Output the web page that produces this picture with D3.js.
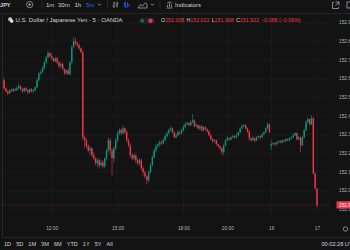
<!DOCTYPE html>
<html>
<head>
<meta charset="utf-8">
<script src="https://cdn.jsdelivr.net/npm/d3@7"></script>
<style>
	html, body { margin: 0; padding: 0; background: #131313; overflow: hidden; }
	svg { display: block; font-family: "Liberation Sans", Arial, sans-serif; }
</style>
</head>
<body>
<div id="container"></div>
<script>
const width = 350;
const height = 250;

// USDJPY 5m bars, OANDA (Fri 09:50 -> Mon 00:00)
const opens = [
	152.590, 152.547, 152.531, 152.520, 152.536, 152.531, 152.542, 152.536, 152.547, 152.558,
	152.542, 152.531, 152.547, 152.536, 152.525, 152.542, 152.531, 152.536, 152.552, 152.590,
	152.627, 152.633, 152.654, 152.686, 152.713, 152.735, 152.718, 152.708, 152.692, 152.708,
	152.686, 152.665, 152.676, 152.649, 152.627, 152.643, 152.622, 152.686, 152.767, 152.799,
	152.788, 152.777, 152.761, 152.740, 152.284, 152.268, 152.236, 152.214, 152.225, 152.188,
	152.172, 152.145, 152.161, 152.134, 152.150, 152.129, 152.172, 152.214, 152.268, 152.214,
	152.172, 152.225, 152.268, 152.306, 152.322, 152.306, 152.332, 152.311, 152.268, 152.241,
	152.188, 152.172, 152.188, 152.161, 152.145, 152.161, 152.118, 152.097, 152.075, 152.054,
	152.097, 152.134, 152.177, 152.214, 152.236, 152.247, 152.257, 152.252, 152.268, 152.290,
	152.306, 152.322, 152.332, 152.311, 152.284, 152.295, 152.311, 152.306, 152.322, 152.338,
	152.354, 152.359, 152.349, 152.365, 152.375, 152.343, 152.349, 152.332, 152.343, 152.322,
	152.338, 152.327, 152.316, 152.295, 152.273, 152.263, 152.268, 152.247, 152.236, 152.225,
	152.204, 152.241, 152.268, 152.279, 152.273, 152.284, 152.290, 152.284, 152.295, 152.311,
	152.332, 152.343, 152.349, 152.332, 152.316, 152.279, 152.268, 152.279, 152.268, 152.284,
	152.290, 152.284, 152.300, 152.311, 152.332, 152.354, 152.236, 152.247, 152.252, 152.247,
	152.257, 152.263, 152.257, 152.268, 152.263, 152.273, 152.268, 152.279, 152.284, 152.295,
	152.306, 152.273, 152.284, 152.241, 152.284, 152.322, 152.365, 152.381, 152.354, 152.386,
	152.091, 152.008
];
const highs = [
	152.606, 152.552, 152.536, 152.542, 152.547, 152.552, 152.547, 152.558, 152.574, 152.563,
	152.547, 152.552, 152.552, 152.542, 152.547, 152.547, 152.542, 152.558, 152.601, 152.633,
	152.643, 152.665, 152.692, 152.718, 152.751, 152.740, 152.735, 152.713, 152.713, 152.713,
	152.692, 152.686, 152.686, 152.654, 152.649, 152.654, 152.692, 152.777, 152.820, 152.815,
	152.799, 152.788, 152.767, 152.751, 152.295, 152.279, 152.252, 152.241, 152.231, 152.204,
	152.177, 152.172, 152.172, 152.161, 152.161, 152.177, 152.225, 152.284, 152.279, 152.225,
	152.236, 152.279, 152.316, 152.332, 152.332, 152.349, 152.338, 152.322, 152.279, 152.252,
	152.198, 152.198, 152.193, 152.172, 152.172, 152.172, 152.129, 152.107, 152.080, 152.107,
	152.145, 152.188, 152.225, 152.247, 152.257, 152.268, 152.268, 152.279, 152.300, 152.316,
	152.332, 152.343, 152.338, 152.316, 152.306, 152.322, 152.316, 152.332, 152.349, 152.365,
	152.370, 152.365, 152.375, 152.408, 152.381, 152.359, 152.354, 152.349, 152.349, 152.343,
	152.343, 152.332, 152.322, 152.300, 152.279, 152.273, 152.273, 152.252, 152.241, 152.231,
	152.247, 152.273, 152.290, 152.284, 152.290, 152.300, 152.295, 152.306, 152.316, 152.338,
	152.354, 152.354, 152.354, 152.338, 152.322, 152.284, 152.290, 152.284, 152.290, 152.295,
	152.295, 152.306, 152.316, 152.338, 152.365, 152.359, 152.268, 152.257, 152.257, 152.263,
	152.268, 152.268, 152.273, 152.273, 152.279, 152.279, 152.284, 152.290, 152.306, 152.311,
	152.311, 152.290, 152.290, 152.290, 152.327, 152.375, 152.391, 152.386, 152.402, 152.391,
	152.094, 152.012
];
const lows = [
	152.536, 152.525, 152.509, 152.515, 152.525, 152.525, 152.531, 152.531, 152.542, 152.536,
	152.520, 152.525, 152.531, 152.515, 152.520, 152.525, 152.520, 152.531, 152.547, 152.584,
	152.617, 152.627, 152.649, 152.676, 152.708, 152.713, 152.697, 152.686, 152.686, 152.676,
	152.654, 152.654, 152.643, 152.617, 152.622, 152.617, 152.617, 152.676, 152.761, 152.777,
	152.767, 152.751, 152.735, 152.268, 152.225, 152.225, 152.204, 152.188, 152.177, 152.161,
	152.134, 152.123, 152.118, 152.129, 152.118, 152.118, 152.161, 152.204, 152.188, 152.080,
	152.150, 152.214, 152.257, 152.295, 152.295, 152.300, 152.300, 152.257, 152.231, 152.177,
	152.161, 152.161, 152.145, 152.134, 152.134, 152.107, 152.080, 152.064, 152.032, 152.043,
	152.091, 152.129, 152.172, 152.204, 152.225, 152.236, 152.241, 152.247, 152.263, 152.284,
	152.300, 152.316, 152.306, 152.279, 152.279, 152.290, 152.295, 152.300, 152.316, 152.332,
	152.349, 152.343, 152.343, 152.359, 152.338, 152.338, 152.327, 152.322, 152.316, 152.316,
	152.322, 152.311, 152.290, 152.268, 152.252, 152.257, 152.241, 152.231, 152.214, 152.188,
	152.188, 152.236, 152.263, 152.263, 152.268, 152.279, 152.273, 152.279, 152.290, 152.306,
	152.327, 152.338, 152.327, 152.306, 152.268, 152.263, 152.263, 152.257, 152.263, 152.279,
	152.273, 152.279, 152.295, 152.306, 152.327, 152.306, 152.214, 152.241, 152.236, 152.241,
	152.252, 152.252, 152.252, 152.257, 152.257, 152.263, 152.263, 152.273, 152.279, 152.290,
	152.268, 152.268, 152.204, 152.236, 152.279, 152.316, 152.359, 152.349, 152.349, 152.086,
	152.003, 151.908
];
const closes = [
	152.547, 152.531, 152.520, 152.536, 152.531, 152.542, 152.536, 152.547, 152.558, 152.542,
	152.531, 152.547, 152.536, 152.525, 152.542, 152.531, 152.536, 152.552, 152.590, 152.627,
	152.633, 152.654, 152.686, 152.713, 152.735, 152.718, 152.708, 152.692, 152.708, 152.686,
	152.665, 152.676, 152.649, 152.627, 152.643, 152.622, 152.686, 152.767, 152.799, 152.788,
	152.777, 152.761, 152.740, 152.284, 152.268, 152.236, 152.214, 152.225, 152.188, 152.172,
	152.145, 152.161, 152.134, 152.150, 152.129, 152.172, 152.214, 152.268, 152.214, 152.172,
	152.225, 152.268, 152.306, 152.322, 152.306, 152.332, 152.311, 152.268, 152.241, 152.188,
	152.172, 152.188, 152.161, 152.145, 152.161, 152.118, 152.097, 152.075, 152.054, 152.097,
	152.134, 152.177, 152.214, 152.236, 152.247, 152.257, 152.252, 152.268, 152.290, 152.306,
	152.322, 152.332, 152.311, 152.284, 152.295, 152.311, 152.306, 152.322, 152.338, 152.354,
	152.359, 152.349, 152.365, 152.375, 152.343, 152.349, 152.332, 152.343, 152.322, 152.338,
	152.327, 152.316, 152.295, 152.273, 152.263, 152.268, 152.247, 152.236, 152.225, 152.204,
	152.241, 152.268, 152.279, 152.273, 152.284, 152.290, 152.284, 152.295, 152.311, 152.332,
	152.343, 152.349, 152.332, 152.316, 152.279, 152.268, 152.279, 152.268, 152.284, 152.290,
	152.284, 152.300, 152.311, 152.332, 152.354, 152.311, 152.247, 152.252, 152.247, 152.257,
	152.263, 152.257, 152.268, 152.263, 152.273, 152.268, 152.279, 152.284, 152.295, 152.306,
	152.273, 152.284, 152.241, 152.284, 152.322, 152.365, 152.381, 152.354, 152.386, 152.091,
	152.010, 151.922
];

// time axis labels and the bar they sit on
const timeLabels = ["12:00", "15:00", "18:00", "20:00", "16", "17"];
const timeIndex = [26, 62, 98, 122, 146, 171];

// price scale ticks
const priceTicks = [151.9, 152.0, 152.1, 152.2, 152.3, 152.4, 152.5, 152.6, 152.7, 152.8, 152.9];

// header / footer texts
const symbolName = "U.S. Dollar / Japanese Yen · 5 · OANDA";
const intervals = ["1m", "30m", "1h", "5m"];
const ranges = ["1D", "5D", "1M", "3M", "6M", "YTD", "1Y", "5Y", "All"];
const clockText = "00:02:28 UTC";

const upColor = "#089981";
const downColor = "#f23645";
const textColor = "#d1d4dc";
const axisColor = "#b2b5be";
const gridColor = "#1d1d1d";

const last = closes.length - 1;
const change = closes[last] - closes[last - 1];

let svg = d3.select("#container")
	.append("svg")
	.attr("width", width)
	.attr("height", height);

svg.append("rect")
	.attr("width", width)
	.attr("height", height)
	.attr("fill", "#131313");

// pane geometry
const pane = { left: 3, right: 330, top: 14, bottom: 221 };

const x = d3.scaleLinear()
	.domain([0, last])
	.range([4.1, 317]);

const y = d3.scaleLinear()
	.domain([151.9, 152.9])
	.range([209, 22.35]);

svg.append("clipPath")
	.attr("id", "pane")
	.append("rect")
	.attr("x", pane.left)
	.attr("y", pane.top)
	.attr("width", pane.right - pane.left)
	.attr("height", pane.bottom - pane.top);

// grid
let grid = svg.append("g").attr("clip-path", "url(#pane)");
grid.selectAll("line.v")
	.data(timeIndex)
	.enter()
	.append("line")
	.attr("class", "v")
	.attr("x1", d => x(d)).attr("x2", d => x(d))
	.attr("y1", pane.top).attr("y2", pane.bottom)
	.attr("stroke", gridColor)
	.attr("stroke-width", 0.8);
grid.selectAll("line.h")
	.data(priceTicks)
	.enter()
	.append("line")
	.attr("class", "h")
	.attr("x1", pane.left).attr("x2", pane.right)
	.attr("y1", d => y(d)).attr("y2", d => y(d))
	.attr("stroke", gridColor)
	.attr("stroke-width", 0.8);

// last price line
grid.append("line")
	.attr("x1", pane.left).attr("x2", pane.right)
	.attr("y1", y(closes[last])).attr("y2", y(closes[last]))
	.attr("stroke", downColor)
	.attr("stroke-opacity", 0.6)
	.attr("stroke-width", 0.7)
	.attr("stroke-dasharray", "1,1.5");

// candles
const candles = closes.map((c, i) => ({ i: i, o: opens[i], h: highs[i], l: lows[i], c: c }));

let plot = svg.append("g").attr("clip-path", "url(#pane)");
let bar = plot.selectAll("g.candle")
	.data(candles)
	.enter()
	.append("g")
	.attr("class", "candle")
	.attr("fill", d => d.c >= d.o ? upColor : downColor)
	.attr("stroke", d => d.c >= d.o ? upColor : downColor);

bar.append("line")
	.attr("x1", d => x(d.i)).attr("x2", d => x(d.i))
	.attr("y1", d => y(d.h)).attr("y2", d => y(d.l))
	.attr("stroke-width", 0.6);

bar.append("rect")
	.attr("x", d => x(d.i) - 0.7)
	.attr("width", 1.4)
	.attr("y", d => y(Math.max(d.o, d.c)))
	.attr("height", d => Math.max(0.6, Math.abs(y(d.o) - y(d.c))))
	.attr("stroke", "none");

// pane borders
svg.append("line")
	.attr("x1", 2.5).attr("x2", 2.5).attr("y1", 14).attr("y2", 238)
	.attr("stroke", "#2a2a2a").attr("stroke-width", 1);
svg.append("line")
	.attr("x1", 0).attr("x2", width).attr("y1", 13.5).attr("y2", 13.5)
	.attr("stroke", "#262626").attr("stroke-width", 1);
svg.append("line")
	.attr("x1", 3).attr("x2", width).attr("y1", 237.5).attr("y2", 237.5)
	.attr("stroke", "#262626").attr("stroke-width", 1);

// price axis (labels run past the window edge, as in the screenshot)
let yAxis = svg.append("g")
	.attr("transform", "translate(" + pane.right + ",0)")
	.call(d3.axisRight(y).tickValues(priceTicks).tickFormat(d3.format(".3f")).tickSize(0).tickPadding(9));
yAxis.select(".domain").remove();
yAxis.selectAll("text")
	.attr("fill", axisColor)
	.attr("font-size", 4.8)
	.attr("font-family", "Liberation Sans, Arial, sans-serif");

// last price badge
svg.append("rect")
	.attr("x", 336.5)
	.attr("y", y(closes[last]) - 3.6)
	.attr("width", 16)
	.attr("height", 7.2)
	.attr("rx", 0.8)
	.attr("fill", downColor);
svg.append("text")
	.attr("x", 339)
	.attr("y", y(closes[last]))
	.attr("dy", "0.35em")
	.attr("fill", "#ffffff")
	.attr("font-size", 4.8)
	.text(d3.format(".3f")(closes[last]));

// time axis
let xAxis = svg.append("g")
	.attr("transform", "translate(0,226.5)")
	.call(d3.axisBottom(x).tickValues(timeIndex).tickFormat((d, i) => timeLabels[i]).tickSize(0).tickPadding(0));
xAxis.select(".domain").remove();
xAxis.selectAll("text")
	.attr("fill", axisColor)
	.attr("font-size", 4.8)
	.attr("font-family", "Liberation Sans, Arial, sans-serif");

// gear icon at axis corner
svg.append("circle")
	.attr("cx", 345.5).attr("cy", 229).attr("r", 2.2)
	.attr("fill", "none").attr("stroke", axisColor).attr("stroke-width", 0.7);

// ---- top toolbar ----
let toolbar = svg.append("g").attr("font-size", 6).attr("fill", textColor);
toolbar.append("text").attr("x", -11.5).attr("y", 6.6).attr("font-size", 5.5).attr("font-weight", "bold").text("USDJPY");

toolbar.append("circle").attr("cx", 29.7).attr("cy", 4.6).attr("r", 3.1)
	.attr("fill", "none").attr("stroke", textColor).attr("stroke-width", 0.6);
toolbar.append("path").attr("d", "M28.1,4.6H31.3M29.7,3V6.2")
	.attr("stroke", textColor).attr("stroke-width", 0.6);

[42, 107.5, 160].forEach(sx => {
	toolbar.append("line").attr("x1", sx).attr("x2", sx).attr("y1", 1).attr("y2", 8.5)
		.attr("stroke", "#3a3a3a").attr("stroke-width", 0.6);
});

const intervalX = [46, 58, 74.5, 86];
toolbar.selectAll("text.iv")
	.data(intervals)
	.enter()
	.append("text")
	.attr("class", "iv")
	.attr("x", (d, i) => intervalX[i])
	.attr("y", 6.6)
	.attr("fill", d => d === "5m" ? "#2962ff" : textColor)
	.text(d => d);

// chevrons
[99.5, 152.5].forEach(cx => {
	toolbar.append("path").attr("d", "M" + (cx - 1.4) + ",3.9L" + cx + ",5.3L" + (cx + 1.4) + ",3.9")
		.attr("fill", "none").attr("stroke", textColor).attr("stroke-width", 0.6);
});

// chart type icons
toolbar.append("path").attr("d", "M114,2V8M114,3H115.3M114,6H112.7M117,1.5V7.5M117,3.5H118.3M117,5.5H115.7")
	.attr("fill", "none").attr("stroke", textColor).attr("stroke-width", 0.6);
toolbar.append("path").attr("d", "M125.5,1.5V8M127.5,2.5V7.5M125.5,3H124.6V6.5H125.5M129,4V7")
	.attr("fill", "none").attr("stroke", "#2962ff").attr("stroke-width", 0.8);
toolbar.append("path").attr("d", "M138,8L140.5,4.5L142.5,6L145.5,2.5L147,4V8Z")
	.attr("fill", "none").attr("stroke", textColor).attr("stroke-width", 0.6);

// indicators icon + label
toolbar.append("path").attr("d", "M166.5,8H172.5M167.5,7V5M169.5,7V3M171.5,7V4.5M167,3.5L169.5,1.8L172,3")
	.attr("fill", "none").attr("stroke", textColor).attr("stroke-width", 0.6);
toolbar.append("text").attr("x", 175).attr("y", 6.6).text("Indicators");

// right side icons
toolbar.append("path").attr("d", "M334,2.5H332.5V8.5H338.5V7M335.5,2H339V5.5M339,2L335.5,5.5")
	.attr("fill", "none").attr("stroke", textColor).attr("stroke-width", 0.6);
toolbar.append("rect").attr("x", 347).attr("y", 2).attr("width", 4).attr("height", 6)
	.attr("fill", "none").attr("stroke", textColor).attr("stroke-width", 0.6);

// ---- legend row ----
let legend = svg.append("g").attr("font-size", 6).attr("fill", textColor);
legend.append("circle").attr("cx", 10.2).attr("cy", 19.3).attr("r", 2.1).attr("fill", "#c9c2cf");
legend.append("circle").attr("cx", 11.8).attr("cy", 21.2).attr("r", 1.6).attr("fill", "#e8e2ea");
legend.append("text").attr("x", 15.5).attr("y", 22.4).text(symbolName);

legend.append("rect").attr("x", 138.5).attr("y", 17.6).attr("width", 17).attr("height", 6.4).attr("rx", 3.2)
	.attr("fill", "#1f1f1f");
legend.append("circle").attr("cx", 142.3).attr("cy", 20.8).attr("r", 1.7).attr("fill", "#0f7a5a");
legend.append("circle").attr("cx", 150.5).attr("cy", 20.8).attr("r", 2.3).attr("fill", "#e0335a");

let ohlc = legend.append("text").attr("x", 161).attr("y", 22.4).attr("font-size", 5.3);
const fmt = d3.format(".3f");
[["O", opens[last]], ["H", highs[last]], ["L", lows[last]], ["C", closes[last]]].forEach((p, k) => {
	ohlc.append("tspan").attr("dx", k === 0 ? 0 : 2.2).attr("fill", textColor).text(p[0]);
	ohlc.append("tspan").attr("fill", downColor).text(fmt(p[1]));
});
ohlc.append("tspan").attr("dx", 2.2).attr("fill", downColor)
	.text(d3.format("+.3f")(change).replace("-", "−") + " (" + d3.format("+.2%")(change / closes[last - 1]).replace("-", "−") + ")");

// ---- bottom toolbar ----
let bottom = svg.append("g").attr("font-size", 5.6).attr("fill", textColor);
let rx = 4;
ranges.forEach(r => {
	let t = bottom.append("text").attr("x", rx).attr("y", 246.2).text(r);
	rx += t.node().getComputedTextLength() + 5;
});
bottom.append("text").attr("x", 321.5).attr("y", 246.2).text(clockText);
</script>
</body>
</html>
